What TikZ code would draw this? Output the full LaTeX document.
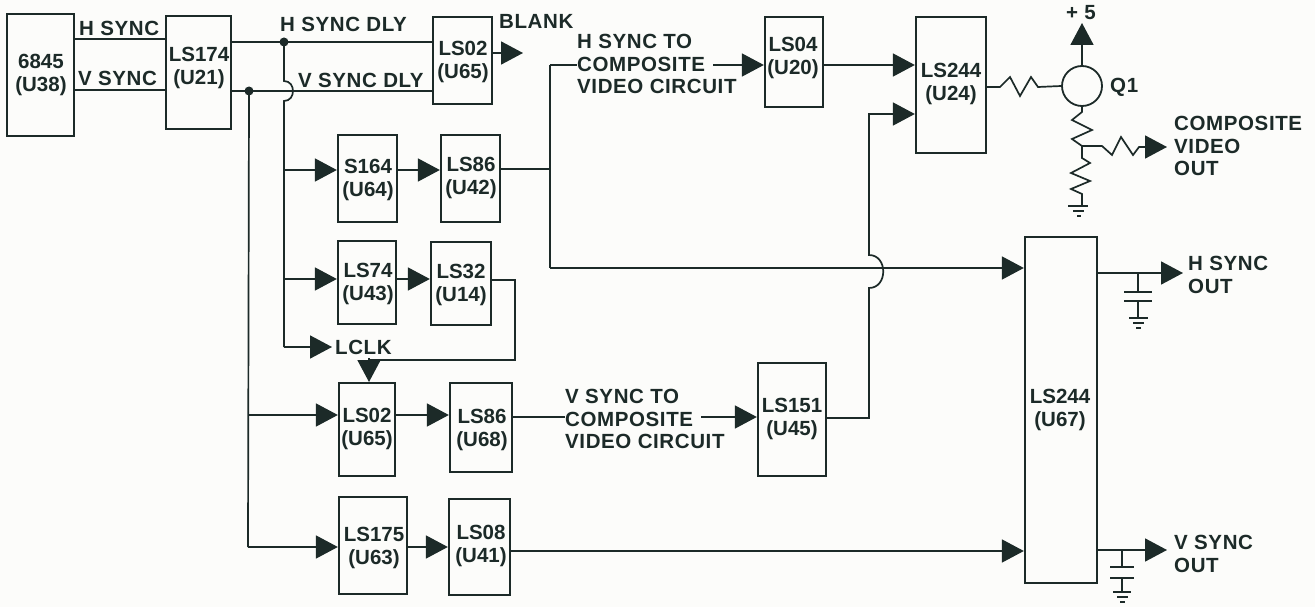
\documentclass[tikz,border=0pt]{standalone}
\usepackage{fontspec}
\setmainfont{Liberation Sans}
\newfontfamily\lblfont{Liberation Sans}[LetterSpace=3]
\usetikzlibrary{arrows.meta,calc}
\definecolor{ink}{HTML}{1C2A28}
\definecolor{paper}{HTML}{FCFCFA}
\tikzset{
  box/.style={draw=ink,line width=2.3pt,inner sep=0pt,line join=miter},
  blabel/.style={text=ink,font=\fontsize{20.5}{23}\selectfont\bfseries,align=center,inner sep=0pt},
  sig/.style={text=ink,font=\fontsize{20.5}{22.5}\selectfont\lblfont\bfseries,align=left,inner sep=0pt,anchor=west},
  wire/.style={draw=ink,line width=1.7pt,line join=miter},
  arr/.style={wire,-{Triangle[length=22pt,width=23pt,fill=ink]}},
  dot/.style={circle,fill=ink,inner sep=0pt,minimum size=9pt},
  thinw/.style={draw=ink,line width=1.7pt,line join=miter},
}
% name, x1,y1,x2,y2, label x,y, line 1, line 2
\newcommand{\blk}[9]{%
  \path let \n1={(#2+#4)/2},\n2={(#3+#5)/2},\n3={abs(#4-#2)*1pt},\n4={abs(#5-#3)*1pt} in
    node[box,minimum width=\n3,minimum height=\n4] (#1) at (\n1,\n2) {};
  \node[blabel] (#1t) at (#6,#7) {#8\\#9};
}
\begin{document}
\begin{tikzpicture}[x=1pt,y=-1pt]
\useasboundingbox[fill=paper] (0,0) rectangle (1315,607);
% blocks
\blk{ua}{7}{14}{74}{136}{41}{75}{6845}{(U38)}
\blk{ub}{166}{16}{231}{129}{199}{68}{LS174}{(U21)}
\blk{uc}{433}{17}{492}{104}{463}{62}{LS02}{(U65)}
\blk{ud}{338}{135}{397}{222}{368}{180}{S164}{(U64)}
\blk{ue}{441}{135}{500}{222}{471}{178}{LS86}{(U42)}
\blk{uf}{338}{241}{396}{324}{368}{284}{LS74}{(U43)}
\blk{ug}{431}{242}{491}{325}{461}{285}{LS32}{(U14)}
\blk{uh}{339}{383}{395}{476}{367}{429}{LS02}{(U65)}
\blk{ui}{450}{383}{512}{472}{482}{430}{LS86}{(U68)}
\blk{uj}{339}{497}{407}{594}{374}{548}{LS175}{(U63)}
\blk{uk}{449}{499}{510}{595}{481}{546}{LS08}{(U41)}
\blk{ul}{758}{363}{826}{476}{792}{419}{LS151}{(U45)}
\blk{um}{765}{17}{823}{107}{793}{58}{LS04}{(U20)}
\blk{un}{916}{17}{986}{153}{951}{84}{LS244}{(U24)}
\blk{uo}{1025}{237}{1097}{583}{1060}{410}{LS244}{(U67)}
% signal labels
\node[sig] (t1) at (79,28) {H SYNC};
\node[sig] (t2) at (78,78) {V SYNC};
\node[sig] (t3) at (280,24) {H SYNC DLY};
\node[sig] (t4) at (298,80) {V SYNC DLY};
\node[sig] (t5) at (499,21) {BLANK};
\node[sig] (t6) at (577,64) {H SYNC TO\\COMPOSITE\\VIDEO CIRCUIT};
\node[sig] (t7) at (565,419) {V SYNC TO\\COMPOSITE\\VIDEO CIRCUIT};
\node[sig] (t8) at (335,347) {LCLK};
\node[sig] (t9) at (1174,146) {COMPOSITE\\VIDEO\\OUT};
\node[sig] (t10) at (1188,275) {H SYNC\\OUT};
\node[sig] (t11) at (1174,554) {V SYNC\\OUT};
\node[sig] (t12) at (1066,13) {+ 5};
\node[sig] (t13) at (1110,87) {Q1};
% junctions
\node[dot] (j1) at (284,42) {};
\node[dot] (j2) at (249,91) {};
% input and delay wires
\draw[wire] (ua.east |- 0,39) -- (ub.west |- 0,39);
\draw[wire] (ua.east |- 0,90) -- (ub.west |- 0,90);
\draw[wire] (ub.east |- 0,42) -- (uc.west |- 0,42);
\draw[wire] (ub.east |- 0,91) -- (uc.west |- 0,91);
\draw[arr] (uc.east |- 0,53) -- (523,53) coordinate (blankend);
% right bus (with hop)
\coordinate (b1) at (284,347);
\draw[wire] (j1.center) -- (284,81) .. controls (296,81) and (296,101) .. (284,101) -- (b1);
\draw[arr] (b1) -- (332,347) coordinate (lclkend);
\draw[arr] (284,170) -- (ud.west |- 0,170);
\draw[arr] (ud.east |- 0,170) -- (ue.west |- 0,170);
\draw[arr] (284,279) -- (uf.west |- 0,279);
\draw[arr] (uf.east |- 0,279) -- (ug.west |- 0,279);
% left bus
\coordinate (b2) at (248,547);
\draw[wire] (j2.center) -- (b2);
\draw[arr] (248,415) -- (uh.west |- 0,415);
\draw[arr] (uh.east |- 0,415) -- (ui.west |- 0,415);
\draw[arr] (b2) -- (uj.west |- 0,547);
\draw[arr] (uj.east |- 0,547) -- (uk.west |- 0,547);
% LCLK feedback
\draw[wire] (ug.east |- 0,280) -- (515,280) -- (515,360) -- (369,360);
\draw[arr] (369,358) -- (369,382);
% H sync to composite
\draw[wire] (ue.east |- 0,169) -- (550,169);
\draw[wire] (550,65) -- (550,268);
\draw[wire] (550,65) -- (t6.west |- 0,65);
\draw[arr] (713,65) -- (um.west |- 0,65);
\draw[arr] (um.east |- 0,65) -- (un.west |- 0,65);
\draw[arr] (550,268) -- (uo.west |- 0,268);
% V sync to composite
\draw[wire] (ui.east |- 0,417) -- (t7.west |- 0,417);
\draw[arr] (701,417) -- (ul.west |- 0,417);
\draw[arr] (ul.east |- 0,418) -- (869,418) -- (869,288) .. controls (888,288) and (888,255) .. (869,255) -- (869,114) -- (un.west |- 0,114);
% V sync output path
\draw[arr] (uk.east |- 0,551) -- (uo.west |- 0,551);
% Q1
\node[circle,draw=ink,line width=1.8pt,minimum size=40pt,inner sep=0pt] (q1) at (1082,86) {};
\draw[arr] (q1.north) -- (1082,23);
\draw[thinw] (un.east |- 0,87) -- (1000,87) -- (1010,77) -- (1020,96) -- (1031,77) -- (1038,87) -- (q1.west);
\coordinate (j3) at (1082,146);
\draw[thinw] (q1.south) -- (1082,112) -- (1072,120) -- (1092,130) -- (1072,139) -- (1082,146) -- (j3)
  -- (1082,158) -- (1090,163) -- (1071,173) -- (1090,181) -- (1071,189) -- (1082,194) -- (1082,206) coordinate (g1);
\draw[thinw] (1068,206) -- (1088,206);
\draw[thinw] (1073,211) -- (1084,211);
\draw[thinw] (1077,216) -- (1081,216);
\draw[arr] (j3) -- (1102,146) -- (1112,155) -- (1121,137) -- (1133,155) -- (1139,147) -- (1167,147);
% H sync out
\draw[arr] (uo.east |- 0,273) -- (1183,273);
\draw[wire] (1138,273) -- (1138,292);
\draw[wire] (1124,292) -- (1152,292);
\draw[wire] (1124,301) -- (1152,301);
\draw[wire] (1138,301) -- (1138,318);
\draw[thinw] (1129,318) -- (1148,318);
\draw[thinw] (1133,323) -- (1144,323);
\draw[thinw] (1136,328) -- (1141,328);
% V sync out
\draw[arr] (uo.east |- 0,550) -- (1167,550);
\draw[wire] (1122,550) -- (1122,567);
\draw[wire] (1110,567) -- (1134,567);
\draw[wire] (1110,578) -- (1134,578);
\draw[wire] (1122,578) -- (1122,592);
\draw[thinw] (1113,592) -- (1131,592);
\draw[thinw] (1117,597) -- (1128,597);
\draw[thinw] (1120,602) -- (1125,602);
\end{tikzpicture}
\end{document}
